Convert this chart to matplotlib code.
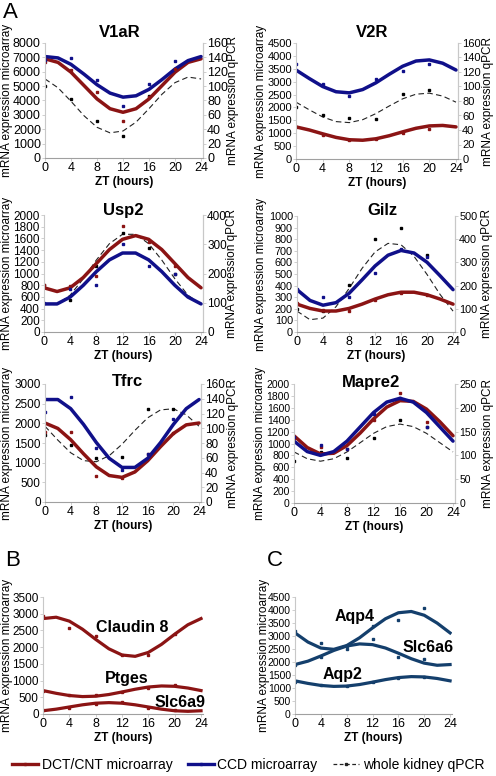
import numpy as np
import matplotlib
matplotlib.use('Agg')
import matplotlib.pyplot as plt
from matplotlib.lines import Line2D

plt.rcParams['font.family'] = ['Liberation Sans', 'DejaVu Sans']

RED = '#8b1414'
BLUE = '#10108a'
TEAL = '#143f6c'

# fitted curves read every 2 h, measured points every 4 h
hours = [0, 2, 4, 6, 8, 10, 12, 14, 16, 18, 20, 22, 24]
pt_hours = [0, 4, 8, 12, 16, 20]

v1ar_dct = [6900, 6651, 5970, 5040, 4110, 3429, 3180, 3429, 4110, 5040, 5970, 6651, 6900]
v1ar_ccd = [7057, 6962, 6513, 5832, 5099, 4515, 4233, 4328, 4777, 5458, 6191, 6775, 7057]
v1ar_qpcr = [110.0, 97.7, 78.9, 58.8, 42.7, 35.0, 37.6, 49.9, 68.7, 88.8, 104.9, 112.6, 110.0]
v1ar_dct_pts = [6680, 6100, 4580, 2600, 4260, 6220]
v1ar_ccd_pts = [6800, 6980, 5410, 3620, 5180, 6750]
v1ar_qpcr_pts = [100, 82, 51, 30, 86, 124]

v2r_dct = [1245, 1126, 977, 838, 747, 728, 785, 904, 1053, 1192, 1283, 1302, 1245]
v2r_ccd = [3452, 3121, 2812, 2609, 2566, 2694, 2958, 3289, 3598, 3801, 3844, 3716, 3452]
v2r_qpcr = [78.4, 67.8, 58.0, 51.6, 50.2, 54.2, 62.7, 73.2, 83.0, 89.4, 90.8, 86.8, 78.4]
v2r_dct_pts = [1250, 950, 720, 780, 1000, 1180]
v2r_ccd_pts = [3670, 2900, 2430, 3100, 3430, 3700]
v2r_qpcr_pts = [72, 60, 57, 55, 89, 95]

usp2_dct = [756, 692, 756, 931, 1170, 1409, 1584, 1648, 1584, 1409, 1170, 931, 756]
usp2_ccd = [480, 480, 597, 798, 1032, 1233, 1350, 1350, 1233, 1032, 798, 597, 480]
usp2_qpcr = [94, 94, 126, 182, 246, 302, 334, 334, 302, 246, 182, 126, 94]
usp2_dct_pts = [810, 790, 955, 1818, 1534, 1136]
usp2_ccd_pts = [490, 727, 795, 1506, 1136, 1000]
usp2_qpcr_pts = [160, 108, 227, 340, 286, 199]

gilz_dct = [240, 203, 181, 181, 203, 240, 284, 321, 343, 343, 321, 284, 240]
gilz_ccd = [365, 272, 231, 253, 333, 449, 569, 662, 703, 681, 601, 485, 365]
gilz_qpcr = [90, 53, 60, 109, 187, 274, 345, 382, 376, 326, 248, 162, 90]
gilz_dct_pts = [250, 190, 178, 279, 340, 320]
gilz_ccd_pts = [368, 302, 299, 511, 718, 647]
gilz_qpcr_pts = [98, 90, 201, 402, 448, 330]

tfrc_dct = [2008, 1870, 1584, 1226, 893, 673, 626, 764, 1050, 1408, 1741, 1961, 2008]
tfrc_ccd = [2605, 2605, 2373, 1973, 1511, 1111, 879, 879, 1111, 1511, 1973, 2373, 2605]
tfrc_qpcr = [102.7, 83.9, 66.8, 56.1, 54.6, 62.8, 78.3, 97.1, 114.2, 124.9, 126.4, 118.2, 102.7]
tfrc_dct_pts = [1784, 1784, 654, 620, 1232, 1750]
tfrc_ccd_pts = [2295, 2660, 1385, 807, 1215, 2100]
tfrc_qpcr_pts = [90.6, 77, 60, 61, 125.5, 125.5]

mapre2_dct = [1130, 932, 824, 836, 966, 1177, 1413, 1612, 1720, 1708, 1578, 1367, 1130]
mapre2_ccd = [1040, 864, 800, 864, 1040, 1280, 1520, 1696, 1760, 1696, 1520, 1280, 1040]
mapre2_qpcr = [107.3, 93.0, 87.8, 93.0, 107.3, 126.8, 146.3, 160.5, 165.8, 160.5, 146.3, 126.8, 107.3]
mapre2_dct_pts = [1100, 933, 900, 1400, 1843, 1365]
mapre2_ccd_pts = [1112, 972, 900, 1500, 1758, 1281]
mapre2_qpcr_pts = [88.5, 107.5, 95.5, 137.6, 174, 160]

claudin8 = [2855, 2895, 2778, 2536, 2233, 1951, 1765, 1725, 1842, 2084, 2387, 2669, 2855]
ptges = [701, 619, 553, 521, 532, 583, 659, 741, 807, 839, 828, 777, 701]
slc6a9 = [97, 145, 210, 275, 323, 340, 323, 275, 210, 145, 97, 80, 97]
claudin8_pts = [2920, 2570, 2320, 1760, 1770, 2380]
ptges_pts = [680, 560, 570, 650, 790, 870]
slc6a9_pts = [110, 180, 300, 370, 170, 120]

aqp4 = [3119, 2767, 2536, 2487, 2632, 2933, 3311, 3663, 3894, 3943, 3798, 3497, 3119]
slc6a6 = [1902, 2032, 2231, 2444, 2614, 2696, 2668, 2538, 2339, 2126, 1956, 1874, 1902]
aqp2 = [1275, 1177, 1099, 1062, 1074, 1134, 1225, 1323, 1401, 1438, 1426, 1366, 1275]
aqp4_pts = [3175, 2730, 2494, 3395, 3626, 4076]
slc6a6_pts = [1900, 2200, 2600, 2880, 2185, 2108]
aqp2_pts = [1250, 1100, 1080, 1250, 1400, 1440]

W, H = 496, 776
fig = plt.figure(figsize=(W / 100, H / 100), dpi=100)


def make_ax(left, top, right, bottom):
    return fig.add_axes([left / W, 1 - bottom / H, (right - left) / W, (bottom - top) / H])


def style(ax, box, ymax, ystep, label_x, fs, right=False):
    ax.set_xlim(0, 24.3)
    ax.set_ylim(0, ymax)
    ax.set_xticks(range(0, 25, 4))
    ax.set_yticks(np.arange(0, ymax + 1, ystep))
    ax.spines['top'].set_visible(False)
    ax.spines['right'].set_visible(right)
    ax.spines['right'].set_color('#c8c8c8')
    ax.spines['left'].set_color('#c8c8c8')
    ax.spines['bottom'].set_color('#a0a0a0')
    ax.tick_params(axis='y', labelsize=fs, length=2, width=0.6, color='#c8c8c8', pad=1)
    ax.tick_params(axis='x', labelsize=9, length=2, width=0.6, color='#c8c8c8', pad=1)
    ax.set_xlabel('ZT (hours)', fontsize=8.5, fontweight='bold', labelpad=1)
    ax.set_ylabel('mRNA expression microarray', fontsize=8.5)
    # right edge of the rotated label sits ~6 px right of its centre
    ax.yaxis.set_label_coords((label_x + 6 - box[0]) / (box[2] - box[0]), 0.5)


def gene_panel(box, title, tpos, dct, ccd, qpcr, dct_pts, ccd_pts, qpcr_pts,
               ymax, ystep, qmax, qstep, lab_left, lab_right, fs):
    ax = make_ax(*box)
    style(ax, box, ymax, ystep, lab_left, fs, right=True)
    ax2 = ax.twinx()
    ax2.set_ylim(0, qmax)
    ax2.set_yticks(np.arange(0, qmax + 1, qstep))
    for s in ['top', 'left', 'bottom']:
        ax2.spines[s].set_visible(False)
    ax2.spines['right'].set_color('#c8c8c8')
    ax2.tick_params(labelsize=fs, length=2, width=0.6, color='#c8c8c8', pad=1)
    ax2.set_ylabel('mRNA expression qPCR', fontsize=8.5)
    ax2.yaxis.set_label_coords((lab_right - 6 - box[0]) / (box[2] - box[0]), 0.5)
    ax2.plot(hours, qpcr, color='#222222', lw=0.8, ls=(0, (5, 3)))
    ax2.plot(pt_hours, qpcr_pts, 's', color='black', ms=1.8, ls='none')
    ax.set_zorder(ax2.get_zorder() + 1)
    ax.patch.set_visible(False)
    ax.plot(hours, dct, color=RED, lw=2.5, solid_capstyle='round')
    ax.plot(hours, ccd, color=BLUE, lw=2.5, solid_capstyle='round')
    ax.plot(pt_hours, dct_pts, 's', color=RED, ms=1.8, ls='none')
    ax.plot(pt_hours, ccd_pts, 's', color=BLUE, ms=1.8, ls='none')
    ax.text(tpos[0], tpos[1], title, transform=ax.transAxes, ha='center', va='center',
            fontsize=12, fontweight='bold')
    return ax


gene_panel((45, 43, 203, 158), 'V1aR', (0.47, 1.09), v1ar_dct, v1ar_ccd, v1ar_qpcr,
           v1ar_dct_pts, v1ar_ccd_pts, v1ar_qpcr_pts, 8000, 1000, 160, 20, 7, 233, 9)
gene_panel((296, 43, 458, 159), 'V2R', (0.47, 1.09), v2r_dct, v2r_ccd, v2r_qpcr,
           v2r_dct_pts, v2r_ccd_pts, v2r_qpcr_pts, 4500, 500, 160, 20, 261, 488, 8)
gene_panel((44, 215, 203, 332), 'Usp2', (0.5, 1.04), usp2_dct, usp2_ccd, usp2_qpcr,
           usp2_dct_pts, usp2_ccd_pts, usp2_qpcr_pts, 2000, 200, 400, 100, 7, 232, 8.5)
gene_panel((297, 216, 455, 332), 'Gilz', (0.54, 1.05), gilz_dct, gilz_ccd, gilz_qpcr,
           gilz_dct_pts, gilz_ccd_pts, gilz_qpcr_pts, 1000, 100, 500, 100, 261, 487, 7.8)
gene_panel((45, 384, 201, 502), 'Tfrc', (0.53, 1.025), tfrc_dct, tfrc_ccd, tfrc_qpcr,
           tfrc_dct_pts, tfrc_ccd_pts, tfrc_qpcr_pts, 3000, 500, 160, 20, 7, 233, 8.5)
gene_panel((294, 384, 455, 503), 'Mapre2', (0.48, 1.015), mapre2_dct, mapre2_ccd, mapre2_qpcr,
           mapre2_dct_pts, mapre2_ccd_pts, mapre2_qpcr_pts, 2000, 200, 250, 50, 260, 488, 7.5)

# panel B
box_b = (43, 597, 203, 714)
axb = make_ax(*box_b)
style(axb, box_b, 3500, 500, 7, 8.5)
for curve, pts in [(claudin8, claudin8_pts), (ptges, ptges_pts), (slc6a9, slc6a9_pts)]:
    axb.plot(hours, curve, color=RED, lw=2.3)
    axb.plot(pt_hours, pts, 's', color=RED, ms=1.6, ls='none')
axb.text(13.5, 2600, 'Claudin 8', ha='center', va='center', fontsize=11.5, fontweight='bold')
axb.text(12.7, 1070, 'Ptges', ha='center', va='center', fontsize=11.5, fontweight='bold')
axb.text(20.8, 350, 'Slc6a9', ha='center', va='center', fontsize=11.5, fontweight='bold')

# panel C
box_c = (295, 597, 452, 714)
axc = make_ax(*box_c)
style(axc, box_c, 4500, 500, 264, 7.5)
for curve, pts in [(aqp4, aqp4_pts), (slc6a6, slc6a6_pts), (aqp2, aqp2_pts)]:
    axc.plot(hours, curve, color=TEAL, lw=2.3)
    axc.plot(pt_hours, pts, 's', color=TEAL, ms=1.6, ls='none')
axc.text(9.3, 3750, 'Aqp4', ha='center', va='center', fontsize=11.5, fontweight='bold')
axc.text(20.6, 2570, 'Slc6a6', ha='center', va='center', fontsize=11.5, fontweight='bold')
axc.text(7.3, 1500, 'Aqp2', ha='center', va='center', fontsize=11.5, fontweight='bold')

fig.text(3 / W, 1 - 13 / H, 'A', fontsize=16, va='center')
fig.text(5 / W, 1 - 561 / H, 'B', fontsize=16, va='center')
fig.text(267 / W, 1 - 561 / H, 'C', fontsize=16, va='center')

handles = [
    Line2D([], [], color=RED, lw=2.4, marker='s', ms=2),
    Line2D([], [], color=BLUE, lw=2.4, marker='s', ms=2),
    Line2D([], [], color='#222222', lw=0.9, ls=(0, (3, 2)), marker='s', ms=1.5),
]
fig.legend(handles, ['DCT/CNT microarray', 'CCD microarray', 'whole kidney qPCR'],
           loc='center', bbox_to_anchor=(0.5, 11 / H), ncol=3, frameon=False,
           fontsize=10, handlelength=1.9, columnspacing=1.1, handletextpad=0.25,
           borderpad=0, borderaxespad=0)

fig.savefig('out.png', dpi=100)
